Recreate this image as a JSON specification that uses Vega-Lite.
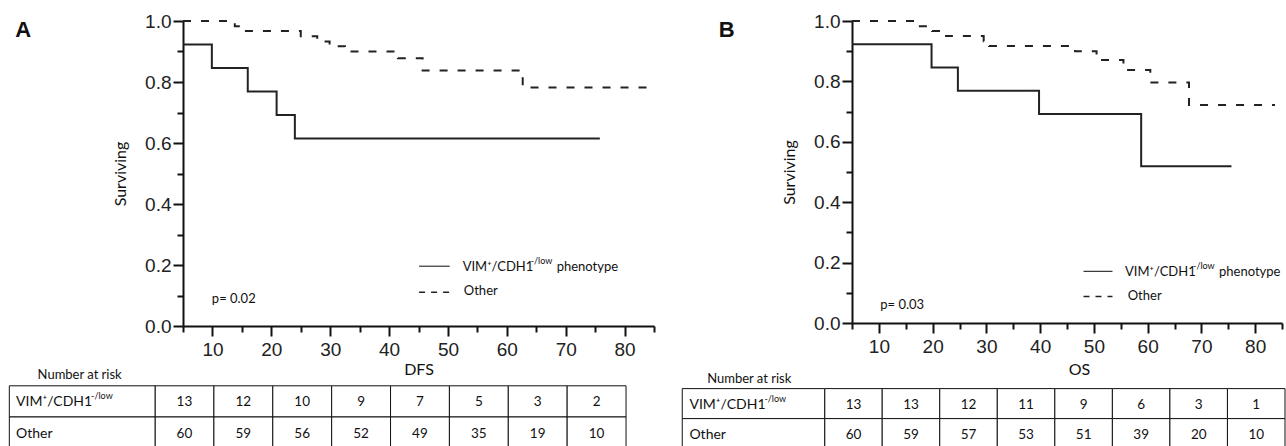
{
  "$schema": "https://vega.github.io/schema/vega-lite/v6.json",
  "background": "white",
  "padding": {"left": 8, "top": 12, "right": 0, "bottom": 0},
  "config": {
    "view": {"stroke": null},
    "font": "Lato",
    "axis": {
      "grid": false,
      "domainColor": "#111",
      "domainWidth": 2,
      "tickColor": "#111",
      "tickWidth": 2,
      "labelFont": "Liberation Sans",
      "labelFontSize": 19,
      "labelColor": "#222",
      "labelFlush": false,
      "labelOverlap": false,
      "titleFont": "Lato",
      "titleFontSize": 16,
      "titleFontWeight": "normal",
      "titleColor": "#111"
    },
    "text": {"font": "Lato", "color": "#111"}
  },
  "datasets": {
    "survA": [
      {"group": "VIM", "t": 5, "s": 0.923},
      {"group": "VIM", "t": 9.9, "s": 0.846},
      {"group": "VIM", "t": 16, "s": 0.769},
      {"group": "VIM", "t": 20.9, "s": 0.692},
      {"group": "VIM", "t": 24, "s": 0.615},
      {"group": "VIM", "t": 75.8, "s": 0.615},
      {"group": "Other", "t": 5, "s": 1},
      {"group": "Other", "t": 13.8, "s": 0.983},
      {"group": "Other", "t": 15, "s": 0.967},
      {"group": "Other", "t": 25, "s": 0.95},
      {"group": "Other", "t": 27.8, "s": 0.933},
      {"group": "Other", "t": 29.9, "s": 0.917},
      {"group": "Other", "t": 32.5, "s": 0.9},
      {"group": "Other", "t": 41.5, "s": 0.878},
      {"group": "Other", "t": 45.7, "s": 0.838},
      {"group": "Other", "t": 62.7, "s": 0.782},
      {"group": "Other", "t": 84, "s": 0.782}
    ],
    "survB": [
      {"group": "VIM", "t": 5, "s": 0.923},
      {"group": "VIM", "t": 19.8, "s": 0.846},
      {"group": "VIM", "t": 24.7, "s": 0.769},
      {"group": "VIM", "t": 39.8, "s": 0.692},
      {"group": "VIM", "t": 58.8, "s": 0.519},
      {"group": "VIM", "t": 75.6, "s": 0.519},
      {"group": "Other", "t": 5, "s": 1},
      {"group": "Other", "t": 16.7, "s": 0.983},
      {"group": "Other", "t": 19.9, "s": 0.967},
      {"group": "Other", "t": 22.5, "s": 0.95},
      {"group": "Other", "t": 29.5, "s": 0.933},
      {"group": "Other", "t": 30.5, "s": 0.917},
      {"group": "Other", "t": 46.5, "s": 0.9},
      {"group": "Other", "t": 50.5, "s": 0.871},
      {"group": "Other", "t": 55.5, "s": 0.838},
      {"group": "Other", "t": 60.5, "s": 0.796},
      {"group": "Other", "t": 67.7, "s": 0.722},
      {"group": "Other", "t": 83.7, "s": 0.722}
    ],
    "riskA": [
      {"group": "VIM", "start": 0, "end": 10, "n": 13},
      {"group": "VIM", "start": 10, "end": 20, "n": 12},
      {"group": "VIM", "start": 20, "end": 30, "n": 10},
      {"group": "VIM", "start": 30, "end": 40, "n": 9},
      {"group": "VIM", "start": 40, "end": 50, "n": 7},
      {"group": "VIM", "start": 50, "end": 60, "n": 5},
      {"group": "VIM", "start": 60, "end": 70, "n": 3},
      {"group": "VIM", "start": 70, "end": 80, "n": 2},
      {"group": "Other", "start": 0, "end": 10, "n": 60},
      {"group": "Other", "start": 10, "end": 20, "n": 59},
      {"group": "Other", "start": 20, "end": 30, "n": 56},
      {"group": "Other", "start": 30, "end": 40, "n": 52},
      {"group": "Other", "start": 40, "end": 50, "n": 49},
      {"group": "Other", "start": 50, "end": 60, "n": 35},
      {"group": "Other", "start": 60, "end": 70, "n": 19},
      {"group": "Other", "start": 70, "end": 80, "n": 10}
    ],
    "riskB": [
      {"group": "VIM", "start": 0, "end": 10, "n": 13},
      {"group": "VIM", "start": 10, "end": 20, "n": 13},
      {"group": "VIM", "start": 20, "end": 30, "n": 12},
      {"group": "VIM", "start": 30, "end": 40, "n": 11},
      {"group": "VIM", "start": 40, "end": 50, "n": 9},
      {"group": "VIM", "start": 50, "end": 60, "n": 6},
      {"group": "VIM", "start": 60, "end": 70, "n": 3},
      {"group": "VIM", "start": 70, "end": 80, "n": 1},
      {"group": "Other", "start": 0, "end": 10, "n": 60},
      {"group": "Other", "start": 10, "end": 20, "n": 59},
      {"group": "Other", "start": 20, "end": 30, "n": 57},
      {"group": "Other", "start": 30, "end": 40, "n": 53},
      {"group": "Other", "start": 40, "end": 50, "n": 51},
      {"group": "Other", "start": 50, "end": 60, "n": 39},
      {"group": "Other", "start": 60, "end": 70, "n": 20},
      {"group": "Other", "start": 70, "end": 80, "n": 10}
    ],
    "rowLabels": [
      {"group": "VIM", "label": "VIM⁺/CDH1"},
      {"group": "Other", "label": "Other"}
    ],
    "one": [{}]
  },
  "spacing": 26,
  "hconcat": [
    {
      "vconcat": [
        {
          "width": 471,
          "height": 305,
          "layer": [
            {
              "layer": [
                {
                  "data": {"name": "survA"},
                  "mark": {"type": "line", "interpolate": "step-after", "strokeWidth": 2, "color": "#222"},
                  "encoding": {
                    "x": {"field": "t", "type": "quantitative", "scale": {"domain": [5, 85], "nice": false, "zero": false},
                      "axis": {"title": "DFS", "orient": "bottom", "values": [10,20,30,40,50,60,70,80], "format": "d",
                        "tickSize": 10, "labelPadding": 4, "titlePadding": 2}},
                    "y": {"field": "s", "type": "quantitative", "scale": {"domain": [0, 1], "nice": false},
                      "axis": {"title": "Surviving", "orient": "left", "values": [0,0.2,0.4,0.6,0.8,1], "format": ".1f",
                        "tickSize": 10, "labelPadding": 2, "titlePadding": 16}},
                    "strokeDash": {"field": "group", "type": "nominal", "scale": {"domain": ["VIM", "Other"], "range": [[1, 0], [8, 10]]}, "legend": null},
                    "detail": {"field": "group"}
                  }
                },
                {
                  "data": {"name": "one"},
                  "mark": {"type": "rule", "strokeWidth": 1.2, "color": "#333"},
                  "encoding": {"x": {"datum": 45.1}, "x2": {"datum": 50.3}, "y": {"datum": 0.196}}
                },
                {
                  "data": {"name": "one"},
                  "mark": {"type": "rule", "strokeWidth": 1.5, "color": "#222", "strokeDash": [6, 6]},
                  "encoding": {"x": {"datum": 45.1}, "x2": {"datum": 50.3}, "y": {"datum": 0.111}}
                },
                {
                  "data": {"name": "one"},
                  "mark": {"type": "text", "align": "left", "baseline": "middle", "fontSize": 13},
                  "encoding": {"x": {"datum": 52.5}, "y": {"datum": 0.193}, "text": {"value": "VIM⁺/CDH1"}}
                },
                {
                  "data": {"name": "one"},
                  "mark": {"type": "text", "align": "left", "baseline": "middle", "fontSize": 9, "dx": 68, "dy": -6},
                  "encoding": {"x": {"datum": 52.5}, "y": {"datum": 0.193}, "text": {"value": "-/low"}}
                },
                {
                  "data": {"name": "one"},
                  "mark": {"type": "text", "align": "left", "baseline": "middle", "fontSize": 13, "dx": 94},
                  "encoding": {"x": {"datum": 52.5}, "y": {"datum": 0.193}, "text": {"value": "phenotype"}}
                },
                {
                  "data": {"name": "one"},
                  "mark": {"type": "text", "align": "left", "baseline": "middle", "fontSize": 13},
                  "encoding": {"x": {"datum": 52.7}, "y": {"datum": 0.114}, "text": {"value": "Other"}}
                },
                {
                  "data": {"name": "one"},
                  "mark": {"type": "text", "align": "left", "baseline": "middle", "fontSize": 13},
                  "encoding": {"x": {"datum": 9.9}, "y": {"datum": 0.087}, "text": {"value": "p= 0.02"}}
                },
                {
                  "data": {"name": "one"},
                  "mark": {"type": "text", "align": "left", "baseline": "middle", "fontSize": 22, "fontWeight": "bold", "font": "Liberation Sans"},
                  "encoding": {"x": {"datum": -23.5}, "y": {"datum": 0.97}, "text": {"value": "A"}}
                },
                {
                  "data": {"name": "one"},
                  "mark": {"type": "text", "align": "left", "baseline": "middle", "fontSize": 13},
                  "encoding": {"x": {"datum": -19.7}, "y": {"datum": -0.162}, "text": {"value": "Number at risk"}}
                }
              ]
            },
            {
              "data": {"name": "survA"},
              "mark": {"type": "point", "opacity": 0},
              "encoding": {
                "x": {"field": "t", "type": "quantitative",
                  "axis": {"orient": "bottom", "values": [5,15,25,35,45,55,65,75,85], "tickSize": 6, "labels": false, "domain": false, "title": null}},
                "y": {"field": "s", "type": "quantitative",
                  "axis": {"orient": "left", "values": [0.1,0.3,0.5,0.7,0.9], "tickSize": 6, "labels": false, "domain": false, "title": null}}
              }
            }
          ],
          "resolve": {"axis": {"x": "independent", "y": "independent"}}
        },
        {
          "width": 471,
          "height": 62.4,
          "layer": [
            {
              "data": {"name": "riskA"},
              "mark": {"type": "rect", "fill": "white", "stroke": "#111", "strokeWidth": 1},
              "encoding": {
                "x": {"field": "start", "type": "quantitative", "scale": {"domain": [4.75, 84.75], "nice": false, "zero": false}, "axis": null},
                "x2": {"field": "end"},
                "y": {"field": "group", "type": "nominal", "sort": ["VIM", "Other"], "scale": {"paddingInner": 0, "paddingOuter": 0}, "axis": null}
              }
            },
            {
              "data": {"name": "rowLabels"},
              "mark": {"type": "rect", "fill": "white", "stroke": "#111", "strokeWidth": 1},
              "encoding": {
                "x": {"datum": -24.75}, "x2": {"datum": 0},
                "y": {"field": "group", "type": "nominal", "sort": ["VIM", "Other"]}
              }
            },
            {
              "data": {"name": "riskA"},
              "mark": {"type": "text", "align": "center", "baseline": "middle", "fontSize": 13.5, "dx": 29.4, "dy": 1},
              "encoding": {
                "x": {"field": "start", "type": "quantitative"},
                "y": {"field": "group", "type": "nominal", "sort": ["VIM", "Other"]},
                "text": {"field": "n"}
              }
            },
            {
              "data": {"name": "rowLabels"},
              "mark": {"type": "text", "align": "left", "baseline": "middle", "fontSize": 14, "dy": 1},
              "encoding": {
                "x": {"datum": -23.6},
                "y": {"field": "group", "type": "nominal", "sort": ["VIM", "Other"]},
                "text": {"field": "label"}
              }
            },
            {
              "data": {"values": [{"group": "VIM", "sup": "-/low"}]},
              "mark": {"type": "text", "align": "left", "baseline": "middle", "fontSize": 9, "dx": 75, "dy": -5},
              "encoding": {
                "x": {"datum": -23.6},
                "y": {"field": "group", "type": "nominal", "sort": ["VIM", "Other"]},
                "text": {"field": "sup"}
              }
            }
          ]
        }
      ],
      "spacing": 59.8,
      "bounds": "flush",
      "resolve": {"scale": {"x": "independent", "y": "independent"}}
    },
    {
      "vconcat": [
        {
          "width": 430,
          "height": 302,
          "layer": [
            {
              "layer": [
                {
                  "data": {"name": "survB"},
                  "mark": {"type": "line", "interpolate": "step-after", "strokeWidth": 2, "color": "#222"},
                  "encoding": {
                    "x": {"field": "t", "type": "quantitative", "scale": {"domain": [5, 85], "nice": false, "zero": false},
                      "axis": {"title": "OS", "orient": "bottom", "titleX": 227, "values": [10,20,30,40,50,60,70,80], "format": "d",
                        "tickSize": 10, "labelPadding": 4, "titlePadding": 5}},
                    "y": {"field": "s", "type": "quantitative", "scale": {"domain": [0, 1], "nice": false},
                      "axis": {"title": "Surviving", "orient": "left", "values": [0,0.2,0.4,0.6,0.8,1], "format": ".1f",
                        "tickSize": 10, "labelPadding": 2, "titlePadding": 16}},
                    "strokeDash": {"field": "group", "type": "nominal", "scale": {"domain": ["VIM", "Other"], "range": [[1, 0], [8, 10]]}, "legend": null},
                    "detail": {"field": "group"}
                  }
                },
                {
                  "data": {"name": "one"},
                  "mark": {"type": "rule", "strokeWidth": 1.2, "color": "#333"},
                  "encoding": {"x": {"datum": 48.07}, "x2": {"datum": 53.46}, "y": {"datum": 0.171}}
                },
                {
                  "data": {"name": "one"},
                  "mark": {"type": "rule", "strokeWidth": 1.5, "color": "#222", "strokeDash": [6, 6]},
                  "encoding": {"x": {"datum": 48.07}, "x2": {"datum": 53.46}, "y": {"datum": 0.088}}
                },
                {
                  "data": {"name": "one"},
                  "mark": {"type": "text", "align": "left", "baseline": "middle", "fontSize": 13},
                  "encoding": {"x": {"datum": 55.8}, "y": {"datum": 0.169}, "text": {"value": "VIM⁺/CDH1"}}
                },
                {
                  "data": {"name": "one"},
                  "mark": {"type": "text", "align": "left", "baseline": "middle", "fontSize": 9, "dx": 68, "dy": -6},
                  "encoding": {"x": {"datum": 55.8}, "y": {"datum": 0.169}, "text": {"value": "-/low"}}
                },
                {
                  "data": {"name": "one"},
                  "mark": {"type": "text", "align": "left", "baseline": "middle", "fontSize": 13, "dx": 94},
                  "encoding": {"x": {"datum": 55.8}, "y": {"datum": 0.169}, "text": {"value": "phenotype"}}
                },
                {
                  "data": {"name": "one"},
                  "mark": {"type": "text", "align": "left", "baseline": "middle", "fontSize": 13},
                  "encoding": {"x": {"datum": 56.3}, "y": {"datum": 0.088}, "text": {"value": "Other"}}
                },
                {
                  "data": {"name": "one"},
                  "mark": {"type": "text", "align": "left", "baseline": "middle", "fontSize": 13},
                  "encoding": {"x": {"datum": 10.26}, "y": {"datum": 0.059}, "text": {"value": "p= 0.03"}}
                },
                {
                  "data": {"name": "one"},
                  "mark": {"type": "text", "align": "left", "baseline": "middle", "fontSize": 22, "fontWeight": "bold", "font": "Liberation Sans"},
                  "encoding": {"x": {"datum": -19.8}, "y": {"datum": 0.97}, "text": {"value": "B"}}
                },
                {
                  "data": {"name": "one"},
                  "mark": {"type": "text", "align": "left", "baseline": "middle", "fontSize": 13},
                  "encoding": {"x": {"datum": -21.95}, "y": {"datum": -0.186}, "text": {"value": "Number at risk"}}
                }
              ]
            },
            {
              "data": {"name": "survB"},
              "mark": {"type": "point", "opacity": 0},
              "encoding": {
                "x": {"field": "t", "type": "quantitative",
                  "axis": {"orient": "bottom", "values": [5,15,25,35,45,55,65,75,85], "tickSize": 6, "labels": false, "domain": false, "title": null}},
                "y": {"field": "s", "type": "quantitative",
                  "axis": {"orient": "left", "values": [0.1,0.3,0.5,0.7,0.9], "tickSize": 6, "labels": false, "domain": false, "title": null}}
              }
            }
          ],
          "resolve": {"axis": {"x": "independent", "y": "independent"}}
        },
        {
          "width": 433,
          "height": 60,
          "layer": [
            {
              "data": {"name": "riskB"},
              "mark": {"type": "rect", "fill": "white", "stroke": "#111", "strokeWidth": 1},
              "encoding": {
                "x": {"field": "start", "type": "quantitative", "scale": {"domain": [4.75, 80], "nice": false, "zero": false}, "axis": null},
                "x2": {"field": "end"},
                "y": {"field": "group", "type": "nominal", "sort": ["VIM", "Other"], "scale": {"paddingInner": 0, "paddingOuter": 0}, "axis": null}
              }
            },
            {
              "data": {"name": "rowLabels"},
              "mark": {"type": "rect", "fill": "white", "stroke": "#111", "strokeWidth": 1},
              "encoding": {
                "x": {"datum": -24.75}, "x2": {"datum": 0},
                "y": {"field": "group", "type": "nominal", "sort": ["VIM", "Other"]}
              }
            },
            {
              "data": {"name": "riskB"},
              "mark": {"type": "text", "align": "center", "baseline": "middle", "fontSize": 13.5, "dx": 28.8, "dy": 1},
              "encoding": {
                "x": {"field": "start", "type": "quantitative"},
                "y": {"field": "group", "type": "nominal", "sort": ["VIM", "Other"]},
                "text": {"field": "n"}
              }
            },
            {
              "data": {"name": "rowLabels"},
              "mark": {"type": "text", "align": "left", "baseline": "middle", "fontSize": 14, "dy": 1},
              "encoding": {
                "x": {"datum": -23.5},
                "y": {"field": "group", "type": "nominal", "sort": ["VIM", "Other"]},
                "text": {"field": "label"}
              }
            },
            {
              "data": {"values": [{"group": "VIM", "sup": "-/low"}]},
              "mark": {"type": "text", "align": "left", "baseline": "middle", "fontSize": 9, "dx": 75, "dy": -5},
              "encoding": {
                "x": {"datum": -23.5},
                "y": {"field": "group", "type": "nominal", "sort": ["VIM", "Other"]},
                "text": {"field": "sup"}
              }
            }
          ]
        }
      ],
      "spacing": 65.6,
      "bounds": "flush",
      "resolve": {"scale": {"x": "independent", "y": "independent"}}
    }
  ]
}
